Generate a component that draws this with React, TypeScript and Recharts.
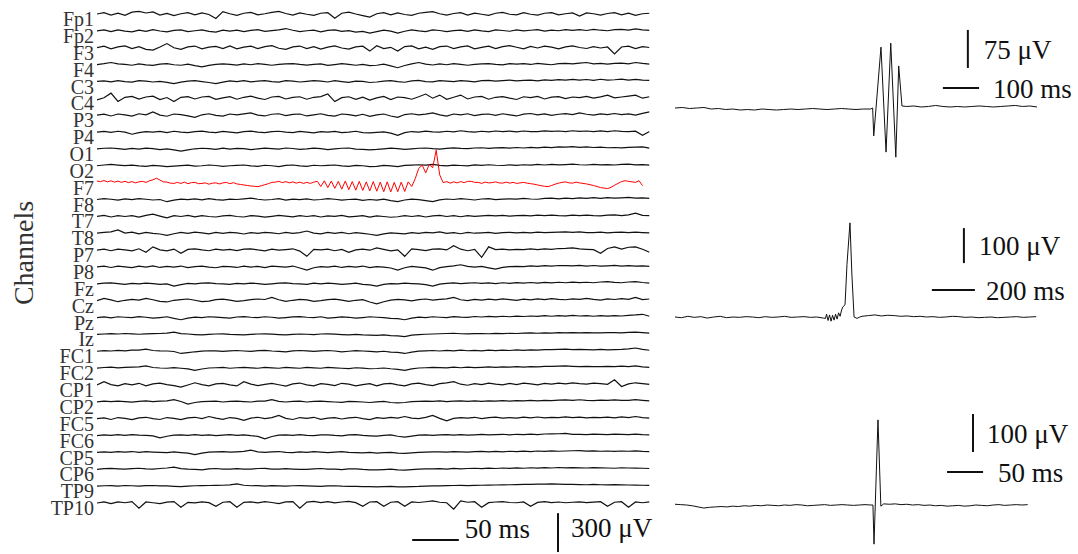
import React from 'react'
import { LineChart, Line, XAxis, YAxis, ReferenceLine, Label } from 'recharts'

// channel names, top to bottom
const channelNames = [
  'Fp1', 'Fp2', 'F3', 'F4', 'C3', 'C4', 'P3', 'P4', 'O1', 'O2',
  'F7', 'F8', 'T7', 'T8', 'P7', 'P8', 'Fz', 'Cz', 'Pz', 'Iz',
  'FC1', 'FC2', 'CP1', 'CP2', 'FC5', 'FC6', 'CP5', 'CP6', 'TP9', 'TP10',
]

// µV, one sample every 7.5 ms
const fp1 = [
  0, 10, -8, 6, -10, 14, 20, 8, 16, -8, 5, -12, 2, 10, -6, 8, -4, -34, 18, 2,
  -10, 6, 12, -6, 2, 12, 20, 4, -8, 9, -2, -10, 6, 10, -32, 6, 14, 0, -12, -24,
  2, 10, -6, 8, -4, -10, 6, 12, 18, 2, -8, 4, 10, -8, 6, -2, -10, 6, 12, -2,
  -6, 10, -2, -8, 6, 10, -6, 2, 8, -16, 8, 2, -8, 4, 10, -6, 6, -10, 2, 6,
]
const fp2 = [
  0, 7, -5, 8, -2, -7, 5, -4, 9, -1, -8, 4, 7, -5, 1, 8, -4, -9, 5, -2,
  6, -5, 4, 9, -4, 2, 8, 18, 5, -5, 1, 6, -7, 4, 8, -4, 2, -9, -4, -17,
  -6, 5, -2, -17, -3, 7, 0, -5, 8, 3, -6, 2, 6, -4, 8, 0, -5, 7, 3, -3,
  8, 0, 5, 9, -2, 6, 1, 10, 4, 9, 3, 11, 5, 1, 9, 12, 6, 16, 8, 4,
]
const f3 = [
  0, 12, -9, 6, 14, -7, 9, -12, -18, 6, 32, 0, -12, 6, 13, -8, 4, 11, -6, 14,
  -9, 5, 12, -7, 9, 16, -4, -12, 6, 13, -6, 9, -10, 5, 14, -2, -11, 7, 12, -26,
  16, -7, 3, -26, 9, 14, -8, 5, -12, 9, 13, -6, 6, 14, -9, 3, 12, -7, 9, 16,
  4, -8, 10, -2, 13, 5, -9, 7, 14, 2, -6, 9, -2, 6, -48, 6, 12, -7, 9, 2,
]
const f4 = [
  0, 7, 16, 6, 1, -5, 6, -2, -6, 3, 7, -1, -5, 4, -8, -17, -6, 1, 6, 2,
  -4, 5, -1, 7, 2, -5, 1, 6, 8, 1, -4, 1, 5, -6, 0, 7, 2, -5, 1, -8,
  -5, 3, -10, -24, -7, 6, 16, 4, -3, 5, -1, 7, 2, -5, 1, 6, 8, 1, -2, 7,
  3, 8, 1, 10, 4, -1, 8, 10, 5, 12, 16, 6, 10, 3, 9, 11, 5, 16, 9, 4,
]
const c3 = [
  0, 5, -3, 6, -1, -5, 7, 2, -4, 1, -7, -16, -5, 3, 6, -1, -8, -16, -5, 4,
  -1, 6, -3, 3, 7, -1, -5, 6, 2, -4, 1, 7, 3, -4, 6, -1, -7, 3, 0, -8,
  -4, 3, 7, -1, -6, 4, 8, -1, -3, 6, 2, -1, 7, 3, -3, 6, 8, 2, 7, 10,
  4, 9, 11, 5, 12, 8, 14, 10, 16, 11, 15, 9, 17, 10, 13, 18, 11, 16, 10, 8,
]
const c4 = [
  -12, 4, 40, -24, 8, 15, -6, 10, 17, -9, 6, -25, 8, 13, -5, 10, 15, -8, 4, 13,
  -7, 8, 17, 1, -9, 10, 15, -5, 7, 12, -7, 8, 13, 33, -25, 5, 12, -8, 9, -13,
  4, 15, -9, 10, 5, -7, 12, 33, 1, 25, -8, 8, 25, -5, 10, 15, -7, 8, 13, 1,
  -9, 12, 5, 15, -5, 9, 13, -2, 10, 5, 15, 2, 11, 25, 4, 10, 17, 25, 1, 12,
]
const p3 = [
  0, 8, -6, 9, 2, -7, 11, 3, 25, 1, -8, 9, 5, -5, -17, 3, 11, -2, -7, 9,
  3, 10, 17, 1, -6, 7, 11, -4, 6, 9, -6, 3, 11, -2, -7, 9, 4, -5, 7, -9,
  2, 9, -6, -17, 5, 11, 2, 8, 17, 2, -7, 9, 2, 11, -4, 6, 9, -2, 11, 3,
  -6, 8, 13, 3, 10, -2, 7, 12, 4, 17, 7, 1, 10, 4, 13, 5, 10, 1, 14, 25,
]
const p4 = [
  0, 5, -3, 6, -1, -17, -5, 3, -1, 5, -4, 6, -1, -5, 3, 7, -1, -4, 5, -1,
  -6, 3, 7, -1, -5, 3, 6, -1, -4, 5, -1, -6, 3, -1, 5, -4, 0, 6, -5, -7,
  -3, 1, -8, -25, -5, 4, -1, 7, 2, -1, 6, 2, 10, 3, -1, 6, 2, 8, 3, 7,
  2, 8, 4, 3, 9, 5, 8, 4, 10, 5, 8, 3, 9, 4, 10, 5, 3, 7, -25, 4,
]
const o1 = [
  0, 5, 7, 2, -4, 4, -1, 6, 2, -5, 0, -7, -17, -7, 1, 5, 2, -4, 6, -1,
  4, 2, -5, 0, 6, 2, -1, 7, 3, -4, 0, 6, 2, -5, 0, 5, 7, -1, -4, -7,
  -4, 1, 6, 2, -4, 0, 5, 7, 2, -1, 4, 8, 4, 2, 7, 9, 4, 8, 10, 6,
  11, 7, 12, 8, 14, 10, 16, 13, 17, 12, 15, 11, 13, 9, 11, 8, 12, 14, 16, 6,
]
const o2 = [
  0, 6, 10, 5, 1, 5, -1, -5, 3, -1, -6, -2, 1, 5, -3, 0, 6, 2, -5, 0,
  3, 6, -1, -4, 4, 0, -6, 3, 6, -1, -4, 4, 0, 3, 6, -1, -5, 3, 0, -7,
  -4, 3, -1, -6, 3, 5, 8, 5, 10, 3, -1, 5, 2, -1, 7, 3, 8, 4, 2, 7,
  3, 8, 5, 10, 6, 11, 7, 9, 12, 8, 6, 11, 7, 9, 6, 11, 12, 7, 9, 5,
]
// F7 is sampled twice as finely (3.75 ms)
const f7 = [
  12, 8, 16, 6, 14, 4, 12, 2, 10, 0, 8, -2, 6, 10, 2, 14, 22, 34, 20, 6,
  4, -4, -6, 2, -6, 4, -8, 0, 2, -8, -6, -2, -12, -4, -2, -10, -2, 2, -8, 0,
  -10, -14, -18, -22, -26, -28, -31, -24, -16, -8, 2, 4, 10, 0, 8, -2, 6, -4, 4, -6,
  2, -6, 4, 10, -30, 14, -38, 12, -44, 10, -50, 12, -54, 8, -58, 10, -60, 6, -64, 8,
  -66, 4, -70, 6, -72, 2, -70, 4, -68, 6, -30, 30, 110, 135, 75, 140, 115, 250, 60, 0,
  8, -4, 6, -2, 8, 0, 10, 10, 2, 2, -6, 4, -2, 0, 6, -2, -4, 4, -4, 2,
  -6, -2, 2, -4, -8, -12, -18, -24, -28, -31, -22, -12, -4, 2, 6, -2, -4, 4, -2, -6,
  -10, -16, -22, -30, -38, -42, -46, -36, -20, -6, 8, 15, 10, 6, 2, 15, -23,
]
const f8 = [
  0, 6, 2, -5, 5, -1, 7, 2, -4, 0, -17, -5, 3, -1, 5, -3, 6, -1, -5, 3,
  0, 5, 10, 2, -4, 0, 6, -5, 3, -1, 5, -4, 0, 6, 2, -5, 0, 3, -6, 0,
  -5, 3, -8, -17, -4, 3, -1, -8, -17, -3, 4, 0, 6, 2, -4, 4, 7, -1, 3, 5,
  3, 8, 4, 2, 8, 10, 5, 11, 7, 12, 8, 14, 9, 15, 10, 13, 16, 10, 13, 8,
]
const t7 = [
  0, 7, -5, 6, -1, 5, -6, 8, 17, 2, -12, 5, -1, 7, -4, 6, -1, -5, 3, 8,
  -1, -5, 6, 2, -6, 0, 7, 2, -4, 5, -1, 6, -5, 3, 0, 7, -4, 0, 5, -6,
  3, -1, -7, -3, 5, -1, 6, -5, 3, 7, -1, 5, -3, 6, 0, 3, 7, 3, 8, 2,
  5, 8, 3, 9, 5, 10, 6, 4, 9, 5, 10, 6, 4, 9, 11, 6, 12, 25, 8, 5,
]
const t8 = [
  0, 6, 10, 25, 1, 8, -5, 6, -1, -6, -17, -4, 6, -1, 8, 2, -5, 6, -1, 7,
  2, -6, 5, -1, 7, 2, -4, 6, -1, 5, 17, 1, -5, 6, -1, 7, -4, 5, -1, -8,
  -17, -5, 3, -1, -5, 5, -1, 6, 2, 10, -1, 5, -4, 6, 0, 3, 7, -1, 5, 6,
  2, 7, 3, 8, 4, 6, 9, 10, 6, 10, 5, 4, 8, 3, 7, 9, 4, 8, 5, 2,
]
const p7 = [
  0, 7, -5, 8, 1, -6, 10, -17, 25, 2, -6, 8, -25, 5, 10, 1, -5, 8, -1, 6,
  -4, 7, 10, 1, -6, 8, -1, 4, 10, -8, -48, 6, 1, 8, -5, 5, -17, 2, 8, -1,
  17, 5, -6, 2, -48, 10, 3, -4, 7, 10, 1, 33, 7, -5, 5, -56, 25, 4, 8, 1,
  6, 3, 9, 4, 10, 6, 12, 13, 17, 10, 6, 3, -25, 12, 25, 8, 22, 25, 6, -17,
]
const p8 = [
  0, 6, -4, 7, 1, -5, 6, -1, 8, -4, 4, -1, 7, -5, 2, 6, -1, -6, 4, 2,
  -4, 7, -1, 5, -5, 6, 2, -1, 7, -8, -25, -6, 2, -1, 6, -4, 4, -1, 7, -5,
  2, -1, -8, -25, -6, 4, -1, -7, -25, -5, 2, 8, 17, 4, -1, 4, -7, -17, -4, 2,
  5, 3, 8, 5, 10, 6, 11, 10, 8, 12, 7, 11, 6, 9, 12, 7, 10, 6, 9, 5,
]
const fz = [
  0, 5, 7, 2, -4, 4, -1, 6, 2, -5, 0, -17, -6, 3, -1, 5, 7, 2, -1, -4,
  4, -1, 6, 2, -5, 0, 5, 7, 2, -1, -4, 5, -1, 6, 2, -4, 0, 5, -5, -8,
  -17, -5, 2, -1, 6, 2, -1, -7, -17, -3, 4, 7, 2, 6, 8, 3, 7, 2, 8, 4,
  9, 5, 10, 6, 11, 7, 12, 8, 13, 9, 12, 8, 14, 17, 11, 8, 14, 17, 10, 6,
]
const cz = [
  0, 17, 6, -8, 3, 10, 4, 17, 7, -6, -10, 3, 8, 13, 3, -7, -3, 8, 12, 4,
  -5, 0, 8, 13, 9, 25, 7, -6, 3, 10, 6, -5, 0, 8, 12, 4, -6, 3, 8, -10,
  -25, -8, 4, 10, 6, -1, 8, 13, 4, 10, 14, 25, 7, 1, 10, 4, 12, 6, 14, 8,
  3, 12, 6, 14, 8, 16, 10, 7, 14, 10, 17, 10, 5, 14, 9, 16, 10, 25, 8, 13,
]
const pz = [
  0, 5, -3, 6, 2, -1, 7, 2, -5, 0, 6, -7, -17, -5, 3, -1, 6, 3, -1, -4,
  4, 7, 2, -1, 6, 2, -5, 0, 5, 7, 2, -1, 6, -4, 0, 5, 2, -5, 0, 6,
  2, -1, -6, -8, -17, -5, 3, -1, 6, 2, -1, 7, 3, 2, 8, 4, 9, 5, 10, 6,
  11, 8, 12, 9, 14, 10, 15, 11, 16, 12, 15, 10, 14, 11, 15, 12, 17, 20, 25, 10,
]
const iz = [
  0, 3, 6, 3, 7, 4, 1, 4, 6, 7, 10, 17, 6, 3, -1, -4, 0, 3, 4, 0,
  -1, -4, 0, 3, 4, 2, -1, -4, 0, 3, 1, -1, 3, 4, 2, -1, -3, 0, -4, -6,
  -7, -4, -9, -11, -17, -6, -2, 1, 3, 5, 7, 9, 5, 4, 6, 7, 5, 8, 6, 9,
  7, 10, 11, 9, 12, 10, 13, 11, 14, 12, 14, 12, 11, 13, 14, 12, 15, 17, 13, 10,
]
const fc1 = [
  0, 5, 2, 7, 3, 8, 9, 17, 6, 3, 2, -2, -17, -11, -4, 1, 4, 3, -1, 3,
  6, 2, -1, 5, 7, 2, -1, -4, 3, 6, 3, -1, 3, 6, 2, -4, 0, 5, 2, -1,
  -4, 0, -6, -9, -17, -7, 1, 3, 6, 2, 7, 3, 8, 4, 7, 3, 8, 5, 9, 6,
  10, 7, 11, 8, 12, 13, 15, 17, 13, 15, 12, 10, 14, 11, 13, 15, 19, 25, 14, 8,
]
const fc2 = [
  0, 5, 7, 2, 6, 7, 9, 17, 5, 1, -1, 4, -1, -6, -17, -7, 1, 3, 5, -1,
  3, 6, 2, -1, 5, 2, -1, 6, 2, -1, 5, 2, -1, 6, 2, -1, -4, 3, 0, -5,
  -3, 1, -5, -9, -17, -6, 1, 3, 5, 4, 2, 7, 3, 8, 4, 6, 9, 6, 10, 7,
  11, 8, 12, 9, 13, 13, 15, 17, 14, 12, 14, 12, 11, 14, 12, 15, 12, 17, 10, 6,
]
const cp1 = [
  0, 25, 3, -7, 10, 1, 13, -6, 8, 15, 3, -5, -17, 0, 17, 3, -6, 8, 13, 1,
  -7, 25, 7, -5, 5, 13, 2, -8, 8, 15, 1, -6, 10, 4, -5, 13, 6, -7, 3, 10,
  -6, 8, 13, 1, -7, 8, 15, 3, -5, 10, 16, 25, 6, -2, 10, 3, 14, 6, 1, 12,
  3, 14, 8, 1, 12, 6, 14, 9, 16, 10, 7, 14, 10, 5, 40, -12, 9, 17, 10, 4,
]
const cp2 = [
  0, 5, 1, 6, 2, -2, 4, 7, 2, 5, 7, 17, 3, -17, -5, 1, 3, 5, -1, 3,
  6, 2, -1, 5, 6, 17, 4, -1, 3, 5, -1, 3, 6, 2, -1, -4, 4, 2, -1, -5,
  0, 3, -5, -8, -5, 1, 3, 6, 3, 7, 2, 6, 8, 3, 7, 4, 8, 5, 9, 6,
  10, 7, 11, 8, 12, 9, 13, 15, 12, 16, 12, 10, 14, 11, 15, 12, 11, 17, 12, 8,
]
const fc5 = [
  0, 7, -6, 9, 2, -7, 7, 11, 1, -6, 9, 3, -7, 7, 11, 1, 17, 4, -5, 9,
  3, -12, 5, 11, 1, 8, 25, 3, -6, 9, 2, 11, -5, 5, 9, -2, 7, 11, 1, -7,
  8, 3, 11, 4, 17, 5, 1, 10, 25, 3, -17, 2, 9, 4, 11, 1, 8, 12, 4, 9,
  5, 12, 6, 13, 7, 11, 8, 14, 8, 12, 7, 11, 8, 12, 6, 14, 9, 17, 8, 5,
]
const fc6 = [
  0, 6, 1, 7, 2, 8, 3, 1, -2, -17, -5, 3, 6, 2, 7, 1, 6, -1, 4, 7,
  1, 6, -1, -6, -25, -7, 3, 6, 2, 7, 1, -1, 5, 6, 1, -2, 5, 7, 1, -2,
  -4, 1, 5, -5, -12, -4, 3, 6, 1, 5, 7, 3, 8, 4, 6, 9, 5, 8, 10, 6,
  10, 7, 11, 8, 12, 13, 14, 17, 10, 9, 8, 11, 9, 8, 11, 9, 8, 11, 7, 5,
]
const cp5 = [
  0, 5, 1, 6, 2, 7, 1, 6, 3, 1, -2, 4, -1, -6, -17, -5, 3, 5, 7, 2,
  5, 8, 17, 4, 1, 4, 7, 1, -2, 4, 1, 6, 3, -2, 3, 6, 1, -2, -4, 0,
  -5, -2, 1, -6, -8, -4, 1, 3, 5, 4, 2, 7, 4, 2, 7, 8, 4, 8, 5, 9,
  6, 10, 7, 11, 8, 12, 9, 11, 13, 14, 10, 12, 9, 11, 8, 11, 9, 12, 8, 6,
]
const cp6 = [
  0, 5, 7, 4, 1, 5, 8, 3, 2, 6, 10, 17, 5, 1, -1, -4, 3, 6, 2, 1,
  5, 2, 1, 6, 7, 2, 1, 5, 2, 0, -1, 3, 6, 2, 1, -2, 3, 4, -1, -4,
  -5, -2, 1, -4, -7, -2, 1, 3, 4, 5, 2, 7, 4, 6, 8, 5, 9, 6, 10, 7,
  11, 8, 12, 9, 13, 10, 14, 11, 13, 11, 10, 13, 11, 10, 8, 12, 10, 9, 8, 6,
]
const tp9 = [
  0, 3, 4, 1, 5, 3, 1, 4, 5, 2, 2, -1, -3, 0, 3, 4, 5, 6, 7, 10,
  17, 7, 3, 4, 1, 4, 2, 0, 3, 4, 2, 0, -1, 2, 3, 0, -1, -2, -3, -4,
  -5, -3, -1, -5, -6, -3, -2, 1, 2, 2, 4, 5, 6, 4, 6, 7, 8, 9, 10, 11,
  12, 13, 14, 15, 16, 17, 15, 14, 13, 12, 11, 13, 11, 10, 12, 10, 9, 8, 7, 6,
]
const tp10 = [
  0, 8, -5, 9, 2, 11, -40, 8, 2, -4, 7, 11, -33, 5, 1, 9, 3, -25, 6, 10,
  -33, 5, 9, 1, 11, 4, -5, 9, 11, -40, 7, 13, 3, 10, 1, 8, 13, 3, -25, 8,
  10, -25, 6, 10, -25, 8, 4, 10, 17, 6, 2, -48, 17, 6, 10, -33, 3, 8, 11, 4,
  2, 8, -25, 5, 10, 3, 8, 2, 6, 9, 3, 7, 10, -25, 6, 10, -33, 8, 2, 9,
]

const channelValues = [
  fp1, fp2, f3, f4, c3, c4, p3, p4, o1, o2,
  f7, f8, t7, t8, p7, p8, fz, cz, pz, iz,
  fc1, fc2, cp1, cp2, fc5, fc6, cp5, cp6, tp9, tp10,
]

// right column: three example waveforms (ms, µV)
const wave1Pre = [0, 1, -1, 0, 1, -2, -1, -3, -2, -4, -3, -4, -2, -3, -4, -3, -2, -3, -2, -1, -2, -3, -2, -1, -2, -3, -2, -2]
const wave1BurstTimes = [546, 549, 569, 583, 596, 610, 618, 627]
const wave1BurstValues = [0, -55, 120, -87, 128, -97, 83, 4]
const wave1Post = [3, 4, 2, 3, 5, 3, 2, 3, 2, 3, 4, 3, 2, 3, 4, 5, 3, 4, 2]

const wave2Pre = [0, -2, 2, -1, 1, -3, 0, 2, -2, 0, -1, 1, 0, -2, 1, -1, 0, 2, -1, 0, 1, -1, 0, -3]
const wave2SpikeTimes = [700, 705, 712, 719, 726, 733, 740, 747, 754, 761, 768, 775, 781, 791, 800, 814, 823, 833, 847, 860]
const wave2SpikeValues = [-4, 8, -10, 6, -12, 5, -9, 8, -6, 12, 2, 20, 29, 35, 150, 269, 120, 0, -4, 0]
const wave2Post = [2, 4, 6, 3, 5, 4, 2, 3, 1, 2, 0, 1, -1, 0, 2, 1, -1, 0, -2, -1, 0, -2, -1, 0, 1, -1, 0, 1]

const wave3Pre = [2, 1, 0, -2, -5, -8, -6, -5, -4, -5, -3, -4, -2, -3, -1, -2, 0, -1, -2, 0, -1, 1, 0, -2, -1, 0, 1, -1, 0, 1, 0, -1, 0, 1, 0]
const wave3SpikeTimes = [275, 276.5, 282, 286]
const wave3SpikeValues = [0, -103, 224, -3]
const wave3Post = [3, 2, 3, 1, 2, 0, 1, -1, 0, -2, -1, -3, -2, -1, -3, -2, 0, -1, -2, 0, 1, -1, 0, 1, 0, 1]

const SAMPLE_MS = 7.5
const F7_SAMPLE_MS = 3.75
const CHANNEL_GAP = 130 // µV between neighbouring traces

const SERIF = '"Liberation Serif", "DejaVu Serif", serif'
const INK = '#111'

const channelData = channelValues.map((vals, i) => {
  const step = channelNames[i] === 'F7' ? F7_SAMPLE_MS : SAMPLE_MS
  return vals.map((v, k) => ({ t: k * step, v: v - i * CHANNEL_GAP }))
})

const joinWave = (
  pre: number[], preStep: number,
  times: number[], values: number[],
  post: number[], postStart: number, postStep: number,
) => [
  ...pre.map((v, k) => ({ t: k * preStep, v })),
  ...times.map((t, k) => ({ t, v: values[k] })),
  ...post.map((v, k) => ({ t: postStart + k * postStep, v })),
]

const wave1 = joinWave(wave1Pre, 20, wave1BurstTimes, wave1BurstValues, wave1Post, 640, 20)
const wave2 = joinWave(wave2Pre, 30, wave2SpikeTimes, wave2SpikeValues, wave2Post, 870, 30)
const wave3 = joinWave(wave3Pre, 8, wave3SpikeTimes, wave3SpikeValues, wave3Post, 290, 8)

const barLabel = (value: string, offset: number, dy = 0) => ({
  value,
  position: 'right' as const,
  offset,
  dy,
  fill: INK,
  fontSize: 27,
  fontFamily: SERIF,
})

const renderChannelsLabel = (props: any) => {
  const vb = props.viewBox || { x: 0, y: 0, width: 97, height: 554 }
  const cx = vb.x + 33
  const cy = vb.y + vb.height / 2 - 24
  return (
    <text
      x={cx}
      y={cy}
      transform={`rotate(-90 ${cx} ${cy})`}
      textAnchor="middle"
      fill="#333"
      fontSize={28}
      fontFamily={SERIF}
    >
      Channels
    </text>
  )
}

function ChannelPanel() {
  return (
    <LineChart width={660} height={554} margin={{ top: 0, right: 10.5, bottom: 0, left: 0 }}>
      <XAxis type="number" dataKey="t" domain={[0, 592.5]} hide allowDataOverflow />
      <YAxis
        type="number"
        width={97}
        domain={[-4163, 108]}
        allowDataOverflow
        ticks={channelNames.map((_, i) => -i * CHANNEL_GAP)}
        interval={0}
        tickFormatter={(v: number) => channelNames[Math.round(-v / CHANNEL_GAP)]}
        axisLine={false}
        tickLine={false}
        tickSize={0}
        tickMargin={3}
        tick={{ fill: '#333', fontSize: 20, fontFamily: SERIF, dy: 5 }}
        label={<Label content={renderChannelsLabel} />}
      />
      {channelData.map((d, i) => (
        <Line
          key={channelNames[i]}
          data={d}
          dataKey="v"
          type="linear"
          stroke={channelNames[i] === 'F7' ? '#ff0000' : INK}
          strokeWidth={channelNames[i] === 'F7' ? 1 : 1.2}
          dot={false}
          isAnimationActive={false}
        />
      ))}
      <ReferenceLine
        segment={[{ x: 338, y: -4055 }, { x: 388, y: -4055 }]}
        stroke={INK}
        strokeWidth={2}
        label={barLabel('50 ms', 6, -12)}
      />
      <ReferenceLine
        segment={[{ x: 494.4, y: -4148 }, { x: 494.4, y: -3848 }]}
        stroke={INK}
        strokeWidth={2}
        label={barLabel('300 μV', 13, -5)}
      />
    </LineChart>
  )
}

function WavePanel({
  data, width, height, plotWidth, xMax, yDomain, vBar, hBar, vText, hText, vOffset, hOffset,
}: {
  data: { t: number; v: number }[]
  width: number
  height: number
  plotWidth: number
  xMax: number
  yDomain: [number, number]
  vBar: [number, number, number]
  hBar: [number, number, number]
  vText: string
  hText: string
  vOffset: number
  hOffset: number
}) {
  return (
    <LineChart width={width} height={height} margin={{ top: 0, right: width - plotWidth, bottom: 0, left: 0 }}>
      <XAxis type="number" dataKey="t" domain={[0, xMax]} hide allowDataOverflow />
      <YAxis type="number" domain={yDomain} hide allowDataOverflow />
      <Line data={data} dataKey="v" type="linear" stroke={INK} strokeWidth={1} dot={false} isAnimationActive={false} />
      <ReferenceLine
        segment={[{ x: vBar[0], y: vBar[1] }, { x: vBar[0], y: vBar[2] }]}
        stroke={INK}
        strokeWidth={2}
        label={barLabel(vText, vOffset)}
      />
      <ReferenceLine
        segment={[{ x: hBar[0], y: hBar[2] }, { x: hBar[1], y: hBar[2] }]}
        stroke={INK}
        strokeWidth={2}
        label={barLabel(hText, hOffset)}
      />
    </LineChart>
  )
}

export default function App() {
  return (
    <div
      style={{
        position: 'fixed',
        left: 0,
        top: 0,
        width: 1078,
        height: 554,
        background: '#fff',
        fontFamily: SERIF,
      }}
    >
      <div style={{ position: 'absolute', left: 0, top: 0 }}>
        <ChannelPanel />
      </div>
      <div style={{ position: 'absolute', left: 675, top: 20 }}>
        <WavePanel
          data={wave1}
          width={403}
          height={150}
          plotWidth={362}
          xMax={1000}
          yDomain={[-122.3, 173.6]}
          vBar={[809, 79, 154]}
          hBar={[740, 840, 39.4]}
          vText="75 μV"
          hText="100 ms"
          vOffset={16}
          hOffset={14}
        />
      </div>
      <div style={{ position: 'absolute', left: 675, top: 210 }}>
        <WavePanel
          data={wave2}
          width={403}
          height={130}
          plotWidth={362}
          xMax={1684}
          yDomain={[-65.7, 305.7]}
          vBar={[1344, 154, 254]}
          hBar={[1195, 1395, 77]}
          vText="100 μV"
          hText="200 ms"
          vOffset={15}
          hOffset={11}
        />
      </div>
      <div style={{ position: 'absolute', left: 675, top: 400 }}>
        <WavePanel
          data={wave3}
          width={403}
          height={154}
          plotWidth={357}
          xMax={496}
          yDomain={[-128.9, 276.3]}
          vBar={[414, 139.5, 239.5]}
          hBar={[378, 428, 87]}
          vText="100 μV"
          hText="50 ms"
          vOffset={14}
          hOffset={15}
        />
      </div>
    </div>
  )
}
